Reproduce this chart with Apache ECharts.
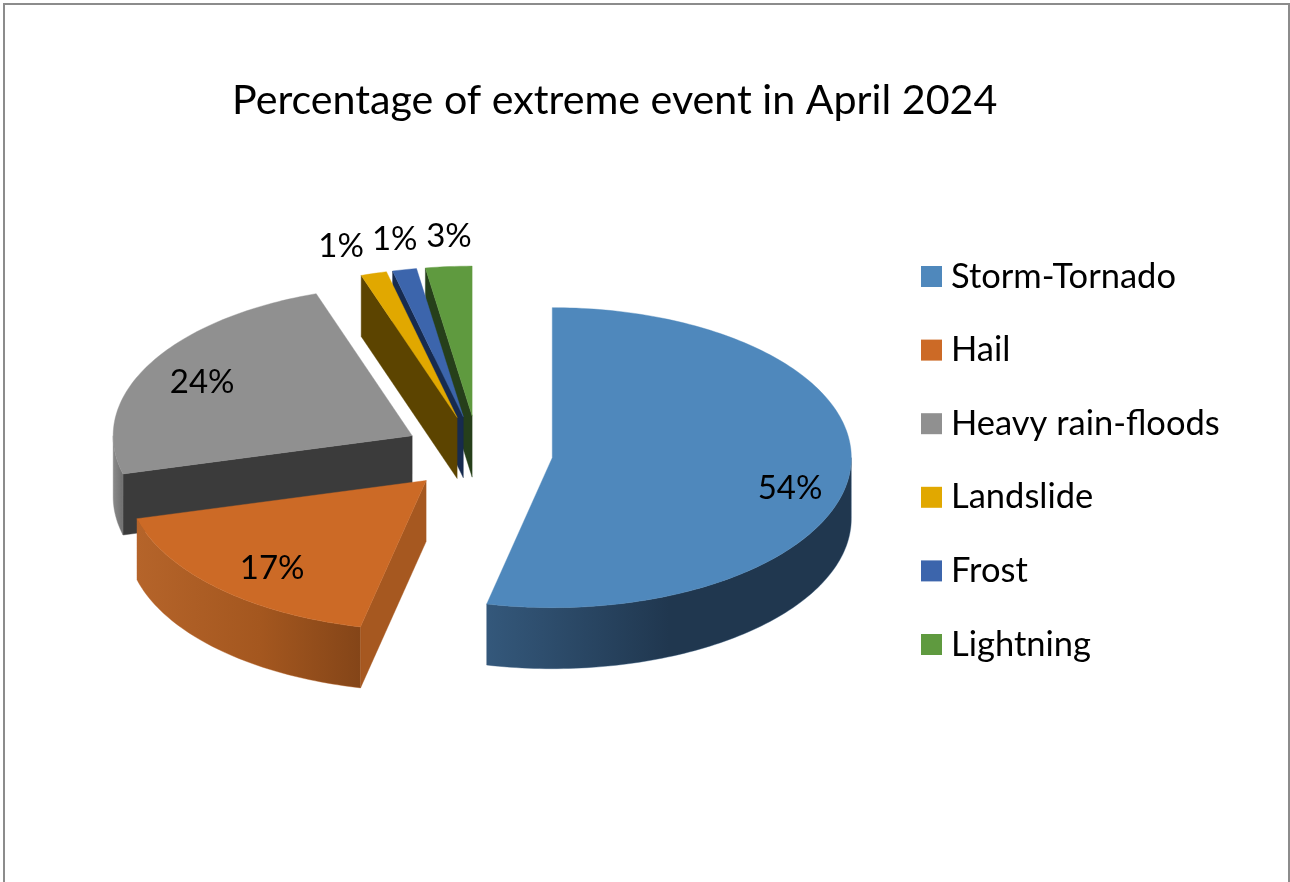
<!DOCTYPE html>
<html>
<head>
<meta charset="utf-8">
<style>html,body{margin:0;padding:0;background:#fff}#c{width:1290px;height:882px}</style>
<script src="https://cdn.jsdelivr.net/npm/echarts@6/dist/echarts.min.js"></script>
</head>
<body>
<div id="c"></div>
<script>
const titleText = 'Percentage of extreme event in April 2024';
const categories = ['Storm-Tornado', 'Hail', 'Heavy rain-floods', 'Landslide', 'Frost', 'Lightning'];
const values = [53.52, 17.38, 23.9, 1.4, 1.3, 2.5];

const topColors = ['#4F88BC', '#CC6A26', '#909090', '#E1A800', '#3C65AC', '#5F9A3F'];
const cutColors = ['#20374F', '#A65820', '#3B3B3B', '#5C4400', '#172B4F', '#263F1A'];
const wallStops = [
  [[0, '#34587B'], [0.5, '#20374F'], [1, '#20374F']],
  [[0, '#B5642A'], [0.55, '#A4571F'], [1, '#844518']],
  [[0, '#8A8A8A'], [1, '#6E6E6E']],
  [[0, '#5C4400'], [1, '#5C4400']],
  [[0, '#172B4F'], [1, '#172B4F']],
  [[0, '#263F1A'], [1, '#263F1A']]
];
// Screen-pixel nudges of the percentage labels away from their default spot.
const labelNudge = [[3, 18], [10, 3], [-2, 3], [-16, 2], [2, -1], [5, 0]];

const EXPLODE = 0.25, DEPTH = 0.407, FONT = 'Lato, Carlito, sans-serif';
const total = values.reduce((a, b) => a + b, 0);
const rad = p => p / total * 2 * Math.PI;
const starts = values.map((_, i) => values.slice(0, i).reduce((a, b) => a + b, 0));
const onCircle = (t, r) => [r * Math.sin(t), -r * Math.cos(t)];

function arcPoints(a, b, cx, cy, dy) {
  const n = Math.max(2, Math.ceil((b - a) / 0.02)), out = [];
  for (let k = 0; k <= n; k++) {
    const t = a + (b - a) * k / n, p = onCircle(t, 1);
    out.push([cx + p[0], cy + p[1] + dy]);
  }
  return out;
}

function renderSlice(i, params, api) {
  const a = rad(starts[i]), b = rad(starts[i] + values[i]), mid = (a + b) / 2;
  const off = onCircle(mid, EXPLODE), cx = off[0], cy = off[1];
  const px = pts => pts.map(p => api.coord(p));
  const poly = (pts, fill) => ({
    type: 'polygon', shape: { points: px(pts) },
    style: { fill: fill, stroke: fill.colorStops ? fill.colorStops[0].color : fill, lineWidth: 0.4 }
  });
  const children = [];
  const radial = t => {
    const p = onCircle(t, 1), e = [cx + p[0], cy + p[1]];
    return [[cx, cy], e, [e[0], e[1] + DEPTH], [cx, cy + DEPTH]];
  };
  if (Math.sin(a) < -1e-6) children.push(poly(radial(a), cutColors[i]));
  if (Math.sin(b) > 1e-6) children.push(poly(radial(b), cutColors[i]));
  const wa = Math.max(a, Math.PI / 2), wb = Math.min(b, 3 * Math.PI / 2);
  if (wb > wa) {
    const wall = arcPoints(wa, wb, cx, cy, 0).concat(arcPoints(wa, wb, cx, cy, DEPTH).reverse());
    const grad = new echarts.graphic.LinearGradient(0, 0, 1, 0,
      wallStops[i].map(s => ({ offset: s[0], color: s[1] })));
    children.push(poly(wall, grad));
  }
  children.push(poly([[cx, cy]].concat(arcPoints(a, b, cx, cy, 0)), topColors[i]));

  const outside = values[i] / total < 0.05;
  const lp = onCircle(mid, outside ? 1.2 : 0.79);
  const lc = api.coord([cx + lp[0], cy + lp[1]]);
  children.push({
    type: 'text', z2: 10,
    style: {
      x: lc[0] + labelNudge[i][0], y: lc[1] + labelNudge[i][1],
      text: Math.round(values[i] / total * 100) + '%',
      font: '33px ' + FONT, fill: '#000', align: 'center', verticalAlign: 'middle'
    }
  });
  return { type: 'group', children: children };
}

const chart = echarts.init(document.getElementById('c'), null, { renderer: 'canvas' });
chart.setOption({
  animation: false,
  backgroundColor: '#fff',
  color: topColors,
  title: {
    text: titleText, left: 227, top: 75,
    textStyle: { fontFamily: FONT, fontSize: 41.2, fontWeight: 'normal', color: '#000' }
  },
  legend: {
    orient: 'vertical', left: 916, top: 254, icon: 'rect',
    itemWidth: 21, itemHeight: 21, itemGap: 38.6, itemStyle: { borderWidth: 0 },
    textStyle: { fontFamily: FONT, fontSize: 34.5, color: '#000', padding: [0, 0, 0, 4] },
    data: categories, selectedMode: false
  },
  grid: { show: false, left: 179, top: 303.5, width: 598, height: 300, containLabel: false },
  xAxis: { type: 'value', min: -1, max: 1, show: false },
  yAxis: { type: 'value', min: -1, max: 1, inverse: true, show: false },
  graphic: [{
    type: 'rect', silent: true, z: -1,
    shape: { x: 4, y: 4, width: 1285, height: 900 },
    style: { fill: 'none', stroke: '#8C8C8C', lineWidth: 2 }
  }],
  series: categories.map((name, i) => ({
    type: 'custom', name: name, coordinateSystem: 'cartesian2d',
    z: categories.length - i + 2, clip: false, silent: true,
    itemStyle: { color: topColors[i] },
    encode: { x: 0, y: 1 },
    data: [[0, 0, values[i]]],
    renderItem: (params, api) => renderSlice(i, params, api)
  }))
});
</script>
</body>
</html>
